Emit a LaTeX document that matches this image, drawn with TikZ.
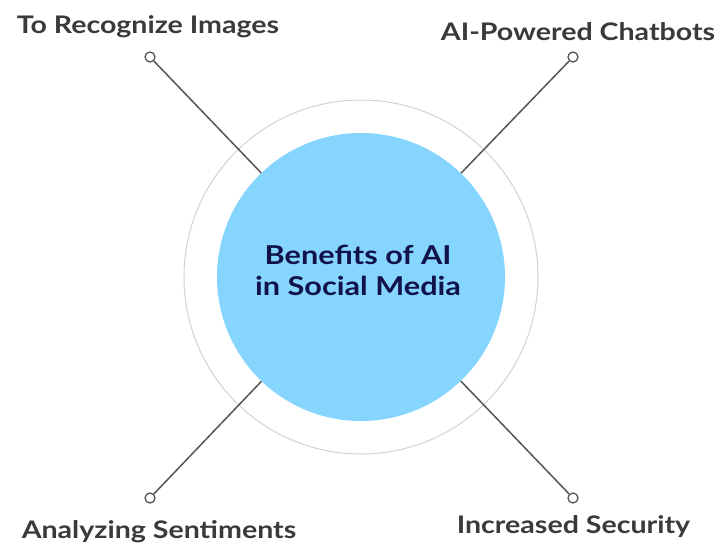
\documentclass[tikz,border=0pt]{standalone}
\usepackage{fontspec}
\setmainfont{Lato}[FakeStretch=1.18]
\definecolor{hubblue}{HTML}{86D5FF}
\definecolor{ringgray}{HTML}{D2D2D2}
\definecolor{linegray}{HTML}{555555}
\definecolor{labelgray}{HTML}{3A3A3A}
\definecolor{navy}{HTML}{12124A}
\begin{document}
\begin{tikzpicture}[x=1pt,y=-1pt,
  lbl/.style={font=\fontsize{24.2}{29}\selectfont\bfseries, text=labelgray, inner sep=0, anchor=base},
  enddot/.style={circle, draw=linegray, fill=white, line width=1.3pt, inner sep=0, minimum size=10pt},
  conn/.style={draw=linegray, line width=1.5pt}]
\useasboundingbox (0,0) rectangle (717,544);
\node[circle, draw=ringgray, line width=1pt, minimum size=354pt, inner sep=0] (ring) at (361,277) {};
\node[circle, fill=hubblue, minimum size=288pt, inner sep=0] (hub) at (361,277) {};
\node[font=\fontsize{26}{31}\selectfont\bfseries, text=navy, align=center, inner sep=0] (title) at (358,270) {Benefits of AI\\in Social Media};
\node[enddot] (d1) at (150,57) {};
\node[enddot] (d2) at (573,57) {};
\node[enddot] (d3) at (150,498) {};
\node[enddot] (d4) at (573,498) {};
\draw[conn] (hub) -- (d1);
\draw[conn] (hub) -- (d2);
\draw[conn] (hub) -- (d3);
\draw[conn] (hub) -- (d4);
\node[lbl] (l1) at (148,33) {To Recognize Images};
\node[lbl] (l2) at (578,40) {AI-Powered Chatbots};
\node[lbl] (l3) at (159,538) {Analyzing Sentiments};
\node[lbl] (l4) at (573.5,533) {Increased Security};
\end{tikzpicture}
\end{document}
